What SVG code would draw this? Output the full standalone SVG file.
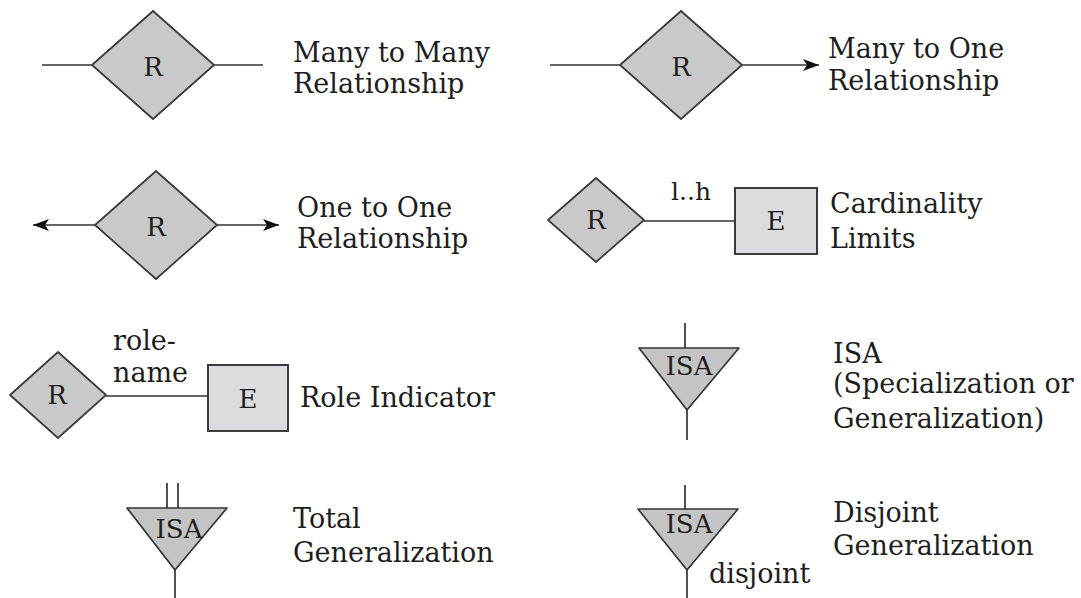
<svg xmlns="http://www.w3.org/2000/svg" width="1081" height="598" viewBox="0 0 1081 598">
<style>
.bg{fill:#ffffff}
.dia{fill:#c9c9c9;stroke:#3a3a3a;stroke-width:1.7;stroke-linejoin:round}
.ent{fill:#dcdbe0;stroke:#333333;stroke-width:1.9}
.tri{fill:#c4c4c4;stroke:#333333;stroke-width:1.7;stroke-linejoin:round}
.ln{stroke:#333333;stroke-width:1.7;fill:none}
text{font-family:"DejaVu Serif","Liberation Serif",serif;fill:#1e1e1e}
.lbl{font-size:27px}
.sym{font-size:26px;text-anchor:middle}
.isa{font-size:26px;text-anchor:middle}
.small{font-size:27px}
</style>
<defs>
<marker id="arr" markerUnits="userSpaceOnUse" markerWidth="18" markerHeight="14" refX="16" refY="6" orient="auto">
<path d="M0,0 L16,6 L0,12 L4,6 z" fill="#111111"/>
</marker>
</defs>
<rect class="bg" x="0" y="0" width="1081" height="598"/>

<g id="connectors">
<line class="ln" x1="42" y1="65" x2="92" y2="65"/>
<line class="ln" x1="214" y1="65" x2="263" y2="65"/>
<line class="ln" x1="550" y1="65" x2="620" y2="65"/>
<line class="ln" x1="742" y1="65" x2="819" y2="65" marker-end="url(#arr)"/>
<line class="ln" x1="95" y1="225" x2="33" y2="225" marker-end="url(#arr)"/>
<line class="ln" x1="217" y1="225" x2="279" y2="225" marker-end="url(#arr)"/>
<line class="ln" x1="644" y1="221" x2="735" y2="221"/>
<line class="ln" x1="106" y1="396" x2="208" y2="396"/>
<line class="ln" x1="685" y1="323" x2="685" y2="348"/>
<line class="ln" x1="687" y1="410" x2="687" y2="440"/>
<line class="ln" x1="167" y1="483" x2="167" y2="508"/>
<line class="ln" x1="178" y1="483" x2="178" y2="508"/>
<line class="ln" x1="175" y1="570" x2="175" y2="598"/>
<line class="ln" x1="685" y1="485" x2="685" y2="509"/>
<line class="ln" x1="687" y1="570" x2="687" y2="598"/>
</g>

<g id="rel-many-many">
<polygon class="dia" points="153,11 214,65 153,119 92,65"/>
<text class="sym" x="153" y="76">R</text>
</g>
<g id="rel-many-one">
<polygon class="dia" points="681,11 742,65 681,119 620,65"/>
<text class="sym" x="681" y="76">R</text>
</g>
<g id="rel-one-one">
<polygon class="dia" points="156,171 217,225 156,279 95,225"/>
<text class="sym" x="156" y="236">R</text>
</g>
<g id="rel-card">
<polygon class="dia" points="596,178 644,220 596,262 548,220"/>
<text class="sym" x="596" y="229">R</text>
</g>
<g id="ent-card">
<rect class="ent" x="735" y="188" width="82" height="66"/>
<text class="sym" x="776" y="230">E</text>
</g>
<g id="rel-role">
<polygon class="dia" points="58,352 106,395 58,438 10,395"/>
<text class="sym" x="57" y="404">R</text>
</g>
<g id="ent-role">
<rect class="ent" x="208" y="365" width="80" height="66"/>
<text class="sym" x="248" y="408">E</text>
</g>
<g id="isa-spec">
<polygon class="tri" points="639,348 739,348 687,410"/>
<text class="isa" x="689" y="375">ISA</text>
</g>
<g id="isa-total">
<polygon class="tri" points="127,508 227,508 175,570"/>
<text class="isa" x="179" y="538">ISA</text>
</g>
<g id="isa-disjoint">
<polygon class="tri" points="638,509 738,509 687,570"/>
<text class="isa" x="689" y="533">ISA</text>
</g>

<g id="edge-labels">
<text x="671" y="200" style="font-size:25px">l..h</text>
<text class="small" x="113" y="350">role-</text>
<text class="small" x="113" y="382">name</text>
<text class="small" x="709" y="583">disjoint</text>
</g>

<g id="descriptions">
<text class="lbl" x="293" y="62">Many to Many</text>
<text class="lbl" x="293" y="93">Relationship</text>
<text class="lbl" x="828" y="58">Many to One</text>
<text class="lbl" x="828" y="90">Relationship</text>
<text class="lbl" x="297" y="217">One to One</text>
<text class="lbl" x="297" y="248">Relationship</text>
<text class="lbl" x="830" y="213">Cardinality</text>
<text class="lbl" x="830" y="248">Limits</text>
<text class="lbl" x="300" y="407">Role Indicator</text>
<text class="lbl" x="833" y="363">ISA</text>
<text class="lbl" x="833" y="393">(Specialization or</text>
<text class="lbl" x="833" y="428">Generalization)</text>
<text class="lbl" x="293" y="528">Total</text>
<text class="lbl" x="293" y="562">Generalization</text>
<text class="lbl" x="833" y="522">Disjoint</text>
<text class="lbl" x="833" y="555">Generalization</text>
</g>
</svg>
